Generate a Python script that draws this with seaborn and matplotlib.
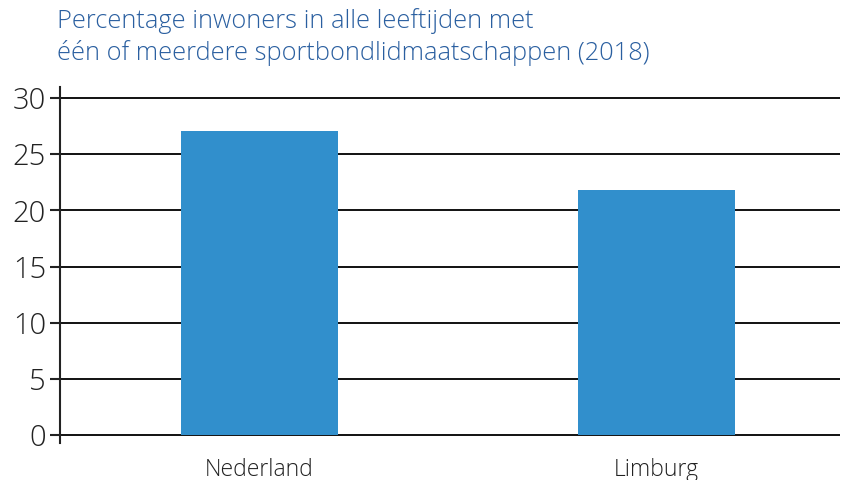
import pandas as pd
import seaborn as sns
import matplotlib.pyplot as plt

regions = ['Nederland', 'Limburg']
percentages = [27.1, 21.8]
yticks = [0, 5, 10, 15, 20, 25, 30]

df = pd.DataFrame({'regio': regions, 'percentage': percentages})

sns.set_style('white')
plt.rcParams['font.family'] = ['Open Sans', 'DejaVu Sans']

fig = plt.figure(figsize=(8.46, 4.8), dpi=100)
ax = fig.add_axes([0.0709, 0.0773, 0.922, 0.742])

sns.barplot(data=df, x='regio', y='percentage', color='#318fcc', width=0.395,
            saturation=1, linewidth=0, ax=ax, zorder=3)

ax.set_ylim(-0.7, 31)
ax.set_xlim(-0.5025, 1.462)
ax.set_yticks(yticks)
ax.set_yticklabels([str(t) for t in yticks], fontsize=21, color='#222222',
                   fontweight='light')
ax.tick_params(axis='y', length=7, width=1.5, color='#222222', pad=3, left=True)
ax.tick_params(axis='x', length=0, pad=11, labelsize=16.5, labelcolor='#222222')
for lbl in ax.get_xticklabels():
    lbl.set_fontweight('light')
ax.yaxis.grid(True, color='#111111', linewidth=1.4)
ax.xaxis.grid(False)
ax.set_axisbelow(True)
for side in ['top', 'right', 'bottom']:
    ax.spines[side].set_visible(False)
ax.spines['left'].set_color('#222222')
ax.spines['left'].set_linewidth(1.5)
ax.set_xlabel('')
ax.set_ylabel('')

fig.text(57 / 846, 1 - 8 / 480,
         'Percentage inwoners in alle leeftijden met\néén of meerdere sportbondlidmaatschappen (2018)',
         ha='left', va='top', fontsize=18.3, color='#2a5fa0', linespacing=1.3,
         fontweight='light')

fig.savefig('out.png', dpi=100)
